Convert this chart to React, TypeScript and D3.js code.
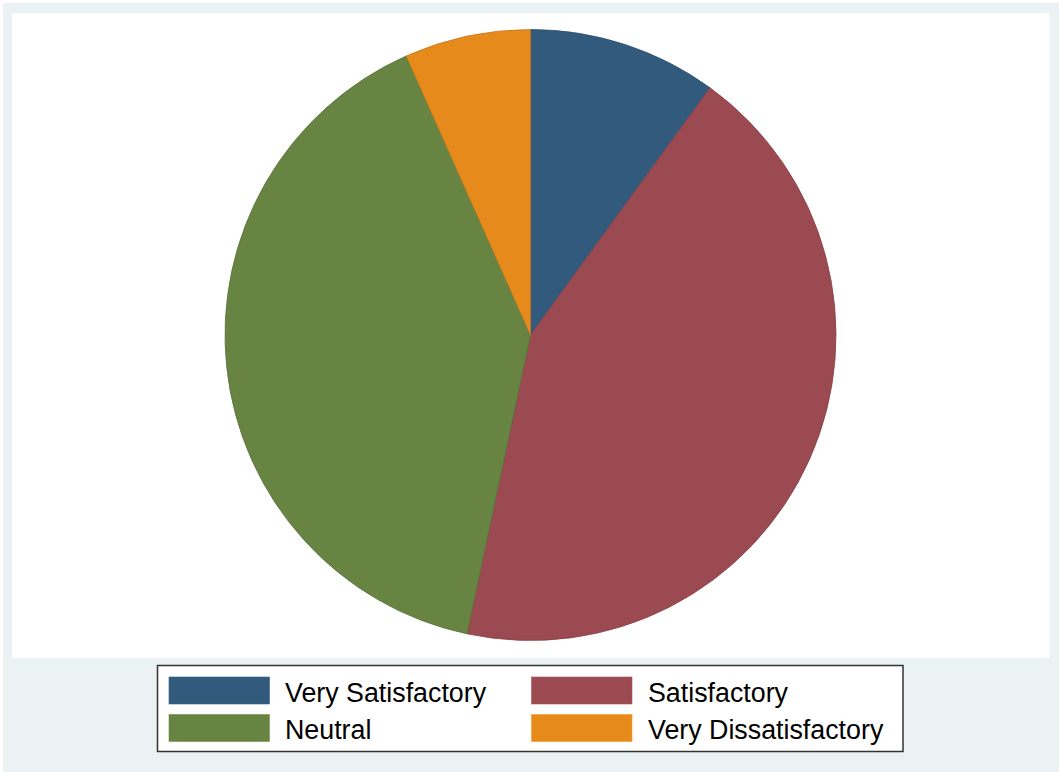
import React from "react";
import * as d3 from "d3";

const categories = ["Very Satisfactory", "Satisfactory", "Neutral", "Very Dissatisfactory"];
const counts = [3, 13, 12, 2];
const colors = ["#325A7D", "#9B4A51", "#678443", "#E68A1C"];

const W = 1059;
const H = 772;

export default function App() {
  const cx = 530.5;
  const cy = 335;
  const r = 305.5;
  const pie = d3.pie<number>().sort(null).startAngle(0).endAngle(2 * Math.PI);
  const arcs = pie(counts);
  const arc = d3.arc<d3.PieArcDatum<number>>().innerRadius(0).outerRadius(r);

  const legendX0 = 157.5;
  const legendY0 = 665.5;
  const legendW = 745.5;
  const legendH = 86;
  const colX = [169, 531.5];
  const textX = [285, 648];
  const rowY = [677, 714.5];
  const swW = 100.5;
  const swH = 27;

  return (
    <svg
      width={W}
      height={H}
      style={{ position: "absolute", left: 0, top: 0, display: "block" }}
      fontFamily="'Liberation Sans', Arial, sans-serif"
    >
      <rect x={0} y={0} width={W} height={H} fill="#ffffff" />
      <rect x={3} y={3} width={W - 3} height={H - 3} fill="#EAF2F3" />
      <rect x={12} y={13} width={1037.3} height={644.7} fill="#ffffff" />
      <g transform={`translate(${cx},${cy})`}>
        {arcs.map((a, i) => (
          <path
            key={categories[i]}
            d={arc(a) || ""}
            fill={colors[i]}
            stroke={d3.color(colors[i])!.darker(0.4).formatHex()}
            strokeWidth={0.8}
          />
        ))}
      </g>
      <rect
        x={legendX0}
        y={legendY0}
        width={legendW}
        height={legendH}
        fill="#ffffff"
        stroke="#333333"
        strokeWidth={1.5}
      />
      {categories.map((c, i) => {
        const col = i % 2;
        const row = Math.floor(i / 2);
        return (
          <g key={c}>
            <rect
              x={colX[col]}
              y={rowY[row]}
              width={swW}
              height={swH}
              fill={colors[i]}
              stroke={d3.color(colors[i])!.brighter(0.3).formatHex()}
              strokeWidth={0.6}
            />
            <text x={textX[col]} y={rowY[row] + 24.5} fontSize={26.8} fill="#000000">
              {c}
            </text>
          </g>
        );
      })}
    </svg>
  );
}
